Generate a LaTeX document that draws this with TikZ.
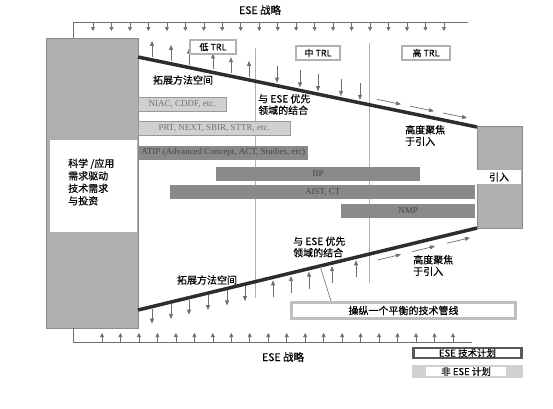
\documentclass[tikz,border=0pt]{standalone}
\usepackage{fontspec}
\setmainfont{Noto Sans CJK SC}[FakeBold=0.4]
\newfontfamily\barfont{Liberation Serif}
\usetikzlibrary{arrows.meta}

\definecolor{blockgray}{RGB}{175,175,175}
\definecolor{darkbar}{RGB}{138,138,138}
\definecolor{lightbar}{RGB}{208,208,208}
\definecolor{thingray}{RGB}{110,110,110}
\definecolor{mainline}{RGB}{45,45,45}

\tikzset{
  tick/.style={thingray, line width=0.6pt, -{Triangle[length=4pt,width=4pt]}},
  flow/.style={thingray, line width=0.7pt, -{Triangle[length=5pt,width=4pt]}},
  lbl/.style={font=\fontsize{10}{11.5}\selectfont, align=left, inner sep=0},
  bar/.style={minimum height=14, inner sep=0, anchor=west, font=\barfont\fontsize{9}{10}\selectfont},
  esebar/.style={bar, fill=darkbar, text=black!72},
  otherbar/.style={bar, fill=lightbar, draw=black!40, text=black!55},
  trlbox/.style={draw=black!30, line width=2pt, fill=white, inner sep=1.5pt, minimum height=14, font=\fontsize{9}{10}\selectfont},
}

\begin{document}
\begin{tikzpicture}[x=1pt, y=-1pt]
  \useasboundingbox (0,0) rectangle (553,408);

  % 上方战略
  \node[lbl, font=\fontsize{10.5}{12}\selectfont] (stratTop) at (260,10) {ESE 战略};
  \draw[thingray, line width=0.6pt] (73,38) -- (73,22) -- (468,22);
  \foreach \i in {0,...,19}
    \draw[tick] ({93+18.47*\i},22) -- ++(0,9);

  % 左右两块
  \draw[draw=black!45, fill=blockgray] (46,38) rectangle (138,328);
  \fill[white] (50,140) rectangle (137,232);
  \node[lbl, anchor=west, font=\fontsize{10}{12.5}\selectfont] (need) at (68,182) {科学 /应用\\需求驱动\\技术需求\\与投资};
  \draw[draw=black!45, fill=blockgray] (477,126) rectangle (522,228);
  \node[fill=white, minimum width=44, minimum height=14, inner sep=0, font=\fontsize{10}{11}\selectfont] (intro) at (499,177) {引入};

  % 分隔线
  \draw[black!30, line width=0.5pt] (255,48) -- (255,298);
  \draw[black!30, line width=0.5pt] (369,43) -- (369,283);

  % 计划条
  \foreach \s/\n/\xa/\xb/\yc/\t in {
      otherbar/niac/138/226/104/{NIAC, CDDF, etc.},
      otherbar/prt/138/290/128/{PRT, NEXT, SBIR, STTR, etc.},
      esebar/atip/138/308/152.5/{ATIP (Advanced Concept, ACT, Studies, etc)},
      esebar/iip/216/420/174/{IIP},
      esebar/aist/170/475/192/{AIST, CT},
      esebar/nmp/341/475/211/{NMP}}
    \node[\s, minimum width={\xb-\xa}] (\n) at (\xa,\yc) {\t};

  % 漏斗边线
  \coordinate (tl) at (138,57);
  \coordinate (tr) at (477,127);
  \coordinate (bl) at (138,310);
  \coordinate (br) at (477,228);
  \draw[mainline, line width=3.5pt] (tl) -- (tr);
  \draw[mainline, line width=3.5pt] (bl) -- (br);

  % 上边线的箭头
  \foreach \x in {152,171,189,213,231,249}
    \draw[flow] (\x,{57+0.2065*(\x-138)-3}) -- ++(0,-16);
  \foreach \x in {277,300,318,341,360}
    \draw[flow] (\x,{57+0.2065*(\x-138)-20}) -- ++(0,17);
  \foreach \x in {377,410,443}
    \draw[flow] (\x,{57+0.2065*(\x-138)-7}) -- ++(24,{24*0.2065});

  % 下边线的箭头
  \foreach \x in {152,171,189,208,227,245}
    \draw[flow] (\x,{310-0.2419*(\x-138)+2}) -- ++(0,15);
  \foreach \x in {273,291,309,332,356}
    \draw[flow] (\x,{310-0.2419*(\x-138)+20}) -- ++(0,-17);
  \foreach \x in {378,412,447}
    \draw[flow] (\x,{310-0.2419*(\x-138)+8}) -- ++(23,{-23*0.2419});

  % 文字
  \node[lbl] (expT) at (183,80) {拓展方法空间};
  \node[lbl, anchor=west] (fitT) at (258,104.5) {与 ESE 优先\\领域的结合};
  \node[lbl, anchor=west] (focT) at (405,135.5) {高度聚焦\\于引入};
  \node[lbl, anchor=west] (fitB) at (293,247) {与 ESE 优先\\领域的结合};
  \node[lbl] (expB) at (207,280) {拓展方法空间};
  \node[lbl, anchor=west] (focB) at (413,265.5) {高度聚焦\\于引入};

  % TRL
  \node[trlbox, minimum width=46] (low) at (213,47) {低 TRL};
  \node[trlbox, minimum width=44] (mid) at (318,53) {中 TRL};
  \node[trlbox, minimum width=48] (high) at (426,53) {高 TRL};

  % 管线
  \node[draw=black!25, line width=3pt, fill=white, minimum width=224, minimum height=16, inner sep=0, font=\fontsize{10}{11}\selectfont] (pipe) at (403.5,310.5) {操纵一个平衡的技术管线\hspace{10pt}};
  \coordinate (cp) at (320,266);
  \draw[thingray, line width=0.6pt] (cp) -- ([xshift=41]pipe.north west);

  % 下方战略
  \draw[thingray, line width=0.6pt] (73,328) -- (73,342) -- (472,342);
  \foreach \i in {0,...,19}
    \draw[tick] ({102+18.47*\i},342) -- ++(0,-9);
  \node[lbl, font=\fontsize{10.5}{12}\selectfont] (stratBot) at (283,357) {ESE 战略};

  % 图例
  \node[draw=black!65, line width=2.5pt, fill=white, minimum width=108, minimum height=10, inner sep=0, font=\fontsize{9.5}{10}\selectfont] (legEse) at (467.5,353) {ESE 技术计划};
  \fill[lightbar] (412,365) rectangle (523,378);
  \node[fill=white, minimum width=80, minimum height=9, inner sep=0, font=\fontsize{9.5}{10}\selectfont] (legOther) at (466,371.5) {非 ESE 计划};
\end{tikzpicture}
\end{document}
